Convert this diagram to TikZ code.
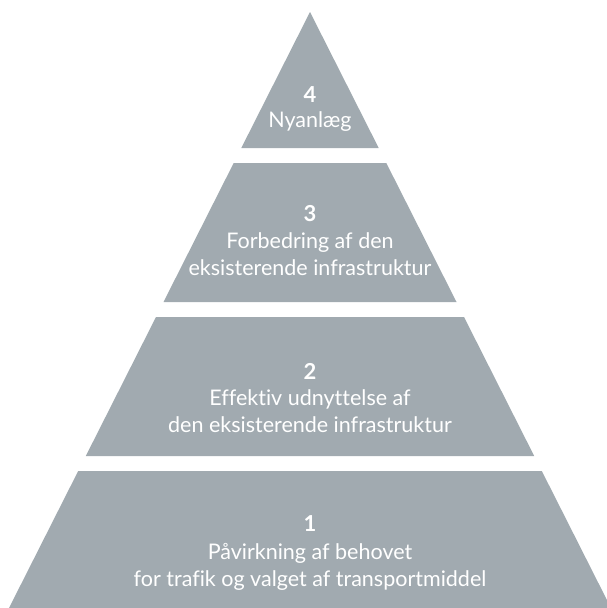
\documentclass[tikz,border=0pt]{standalone}
\usepackage{fontspec}
\setmainfont[Ligatures=NoCommon]{Lato}
\definecolor{pyr}{RGB}{161,170,176}
\begin{document}
\begin{tikzpicture}[x=1pt,y=-1pt,
  band/.style={fill=pyr,draw=none},
  num/.style={text=white,font=\fontsize{22}{26}\selectfont\bfseries,inner sep=0pt},
  lbl/.style={text=white,font=\fontsize{21.5}{27}\selectfont,align=center,inner sep=0pt}]
\useasboundingbox (0,0) rectangle (607,608);
\clip (0,0) rectangle (607,608);
\fill[white] (0,0) rectangle (607,608);
\fill[band] (310,12) -- (378.7,148) -- (241.3,148) -- cycle;
\fill[band] (233.7,163) -- (386.3,163) -- (456.5,302) -- (163.5,302) -- cycle;
\fill[band] (156,317) -- (464,317) -- (534.2,456) -- (85.8,456) -- cycle;
\fill[band] (78.2,471) -- (541.8,471) -- (611,608) -- (9,608) -- cycle;
\node[num] (n4) at (310,95) {4};
\node[lbl] (t4) at (310,122) {Nyanlæg};
\node[num] (n3) at (310,214) {3};
\node[lbl] (t3) at (310,254.5) {Forbedring af den\\eksisterende infrastruktur};
\node[num] (n2) at (310,371) {2};
\node[lbl] (t2) at (310,411.5) {Effektiv udnyttelse af\\den eksisterende infrastruktur};
\node[num] (n1) at (310,524) {1};
\node[lbl] (t1) at (310,566.5) {Påvirkning af behovet\\for trafik og valget af transportmiddel};
\end{tikzpicture}
\end{document}
